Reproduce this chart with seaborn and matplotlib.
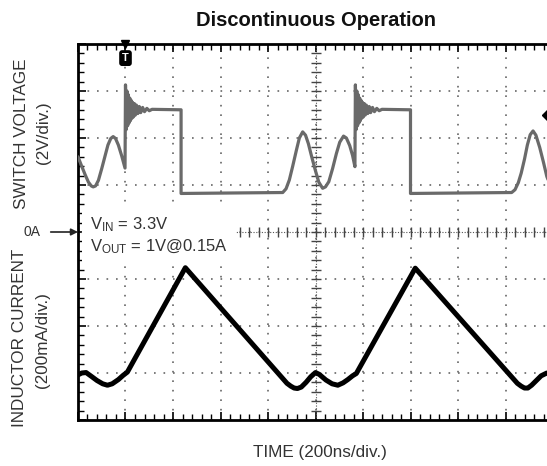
import numpy as np
import pandas as pd
import matplotlib
matplotlib.use("Agg")
import matplotlib.pyplot as plt
import seaborn as sns

# Scope screen: time and amplitudes in screen divisions
# (200ns/div horizontally, 2V/div and 200mA/div vertically)

# switch node ringing right after the switch turns on
ring_dt = [0.00, 0.015, 0.03, 0.045, 0.06, 0.075, 0.09, 0.105, 0.12, 0.135,
           0.15, 0.17, 0.19, 0.21, 0.23, 0.26, 0.29, 0.32, 0.36, 0.40,
           0.45, 0.50, 0.56]
ring_v = [7.13, 6.18, 7.00, 6.26, 6.92, 6.32, 6.85, 6.37, 6.80, 6.42,
          6.76, 6.45, 6.73, 6.49, 6.70, 6.52, 6.67, 6.54, 6.65, 6.56,
          6.63, 6.58, 6.61]

switch_on = [1.00, 5.84]      # trigger edges
switch_off = [2.17, 7.00]
high_level = 6.60
low_level = 4.82

# DCM ringing between switching cycles
pre_t = [0.00, 0.07, 0.15, 0.22, 0.28, 0.32, 0.37, 0.43, 0.50, 0.57, 0.63,
         0.69, 0.74, 0.79, 0.85, 0.92, 0.99]
pre_v = [5.60, 5.42, 5.22, 5.06, 4.98, 4.96, 4.98, 5.10, 5.35, 5.62, 5.85,
         5.99, 6.03, 5.99, 5.85, 5.62, 5.36]
mid_t = [4.31, 4.38, 4.45, 4.52, 4.60, 4.66, 4.73, 4.79, 4.85, 4.92, 5.00,
         5.07, 5.15, 5.21, 5.28, 5.36, 5.44, 5.51, 5.59, 5.65, 5.72, 5.78,
         5.83]
mid_v = [4.84, 4.92, 5.11, 5.40, 5.75, 6.00, 6.13, 6.06, 5.88, 5.60, 5.30,
         5.06, 4.93, 4.96, 5.07, 5.35, 5.67, 5.91, 6.04, 6.00, 5.84, 5.63,
         5.39]
end_t = [9.13, 9.20, 9.27, 9.33, 9.40, 9.46, 9.52, 9.58, 9.64, 9.72, 9.80,
         9.87, 9.94, 10.0]
end_v = [4.84, 4.90, 5.05, 5.25, 5.55, 5.85, 6.07, 6.15, 6.06, 5.80, 5.48,
         5.18, 5.00, 4.93]

# inductor current trace
cur_t = [0.00, 0.08, 0.17, 0.28, 0.40, 0.52, 0.62, 0.72, 0.85, 0.95, 1.04,
         2.26, 4.40, 4.48, 4.55, 4.62, 4.70, 4.80, 4.90, 5.00, 5.08, 5.22,
         5.35, 5.47, 5.58, 5.68, 5.78, 5.86, 7.10, 9.25, 9.33, 9.40, 9.47,
         9.55, 9.65, 9.75, 9.87, 10.0]
cur_i = [0.96, 1.00, 1.01, 0.93, 0.84, 0.77, 0.74, 0.77, 0.86, 0.95, 1.02,
         3.24, 0.78, 0.72, 0.68, 0.67, 0.70, 0.80, 0.92, 1.01, 0.97, 0.85,
         0.77, 0.74, 0.79, 0.86, 0.94, 0.99, 3.23, 0.78, 0.72, 0.68, 0.68,
         0.74, 0.84, 0.94, 1.00, 0.98]

zero_level = 4.0
trigger_level = 6.5

# assemble the switch voltage trace
v_t = list(pre_t)
v_y = list(pre_v)
for k, t_on in enumerate(switch_on):
    v_t += [t_on + d for d in ring_dt] + [switch_off[k], switch_off[k]]
    v_y += ring_v + [high_level, low_level]
    v_t += mid_t if k == 0 else end_t
    v_y += mid_v if k == 0 else end_v
volt = pd.DataFrame({"t": v_t, "v": v_y})
curr = pd.DataFrame({"t": cur_t, "i": cur_i})

sns.set_theme(style="white")
plt.rcParams["font.family"] = ["Liberation Sans", "DejaVu Sans"]
plt.rcParams["mathtext.default"] = "regular"

fig = plt.figure(figsize=(5.47, 4.66), dpi=100)
ax = fig.add_axes([78 / 547, 46 / 466, 475 / 547, 376 / 466])

sns.lineplot(data=volt, x="t", y="v", ax=ax, sort=False, estimator=None,
             color="#6a6a6a", lw=2.3, zorder=3)
sns.lineplot(data=curr, x="t", y="i", ax=ax, sort=False, estimator=None,
             color="black", lw=3.6, zorder=3)

ax.set_xlim(0, 10)
ax.set_ylim(0, 8)
ax.set_xticks(np.arange(0, 11))
ax.set_yticks(np.arange(0, 9))
ax.set_xticks(np.arange(0, 10.01, 0.2), minor=True)
ax.set_yticks(np.arange(0, 8.01, 0.2), minor=True)
ax.tick_params(which="both", direction="in", top=True, bottom=True, left=True,
               right=False, labelbottom=False, labelleft=False, color="black")
ax.tick_params(which="major", length=6, width=1.2)
ax.tick_params(which="minor", length=4, width=1.0)
ax.grid(which="major", color="#666666", linestyle=(0, (1, 4.7)), lw=1.2)
ax.set_xlabel("")
ax.set_ylabel("")
for side in ["top", "left", "bottom"]:
    ax.spines[side].set_linewidth(2.0)
    ax.spines[side].set_color("black")
ax.spines["right"].set_visible(False)

# centre graticule axes with fine ticks
ax.axvline(5, color="#555555", lw=0.8, ls=(0, (1, 1.5)), zorder=1.5)
ax.axhline(zero_level, color="#555555", lw=0.8, ls=(0, (1, 1.5)), zorder=1.5)
yy = np.arange(0, 8.01, 0.2)
xx = np.arange(0, 10.01, 0.2)
ax.plot(np.full_like(yy, 5), yy, ls="none", marker="_", ms=7, mew=1.0,
        color="#444444", zorder=1.6)
ax.plot(xx, np.full_like(xx, zero_level), ls="none", marker="|", ms=7,
        mew=1.0, color="#444444", zorder=1.6)

# trigger position and trigger level markers
ax.plot(switch_on[0], 8.0, marker="v", ms=6, color="black", clip_on=False,
        zorder=5)
ax.text(switch_on[0], 7.70, "T", ha="center", va="center", color="white",
        fontsize=8, fontweight="bold", zorder=5,
        bbox=dict(boxstyle="round,pad=0.2", fc="black", ec="black"))
ax.plot(9.92, trigger_level, marker="D", ms=7, color="black", clip_on=False,
        zorder=5)

# operating conditions
ax.text(0.25, 3.93, "V$_{IN}$ = 3.3V\nV$_{OUT}$ = 1V@0.15A", fontsize=12,
        color="#333333", ha="left", va="center", linespacing=1.25, zorder=4,
        bbox=dict(fc="white", ec="none", pad=6))

ax.annotate("0A", xy=(0, zero_level), xycoords=("axes fraction", "data"),
            xytext=(-27, 0), textcoords="offset points", ha="right",
            va="center", fontsize=10, color="#333333",
            arrowprops=dict(arrowstyle="-|>", color="#222222", lw=1.2,
                            shrinkA=5, shrinkB=0, mutation_scale=10))

fig.text(316 / 547, 1 - 20.7 / 466, "Discontinuous Operation", fontsize=14.5,
         fontweight="bold", color="#111111", ha="center", va="center")
fig.text(21.7 / 547, 1 - 134 / 466, "SWITCH VOLTAGE", rotation=90,
         fontsize=12.3, color="#333333", ha="center", va="center")
fig.text(43.3 / 547, 1 - 132.5 / 466, "(2V/div.)", rotation=90,
         fontsize=12.3, color="#333333", ha="center", va="center")
fig.text(20 / 547, 1 - 338 / 466, "INDUCTOR CURRENT", rotation=90,
         fontsize=12.3, color="#333333", ha="center", va="center")
fig.text(42.7 / 547, 1 - 340 / 466, "(200mA/div.)", rotation=90,
         fontsize=12.3, color="#333333", ha="center", va="center")
fig.text(320 / 547, 1 - 453 / 466, "TIME (200ns/div.)", fontsize=12.3,
         color="#333333", ha="center", va="center")

fig.savefig("out.png", dpi=100)
